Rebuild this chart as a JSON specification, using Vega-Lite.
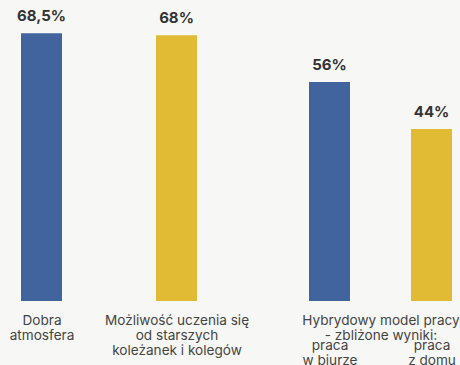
{
  "$schema": "https://vega.github.io/schema/vega-lite/v6.json",
  "width": 460,
  "height": 301,
  "padding": {"left": 0, "top": 0, "right": 0, "bottom": 64},
  "autosize": {"type": "none"},
  "background": "#f7f7f5",
  "config": {
    "view": {"stroke": null},
    "axisX": {
      "title": null,
      "domain": false,
      "ticks": false,
      "grid": false,
      "labelOverlap": false,
      "labelFlush": false,
      "labelBound": false,
      "labelFont": "Inter",
      "labelFontSize": 13.6,
      "labelColor": "#444444",
      "labelLineHeight": 15,
      "labelBaseline": "top"
    }
  },
  "data": {"values": [
    {"order": 1, "category": "Dobra atmosfera", "value": 68.5, "series": "A"},
    {"order": 2, "category": "Możliwość uczenia się od starszych koleżanek i kolegów", "value": 68, "series": "B"},
    {"order": 3, "category": "Hybrydowy model pracy – praca w biurze", "value": 56, "series": "A"},
    {"order": 4, "category": "Hybrydowy model pracy – praca z domu", "value": 44, "series": "B"}
  ]},
  "transform": [
    {"calculate": "replace(format(datum.value, '~g'), '.', ',') + '%'", "as": "label"}
  ],
  "encoding": {
    "y": {
      "field": "value",
      "type": "quantitative",
      "scale": {"domain": [0, 77], "nice": false},
      "axis": null
    }
  },
  "resolve": {"axis": {"x": "independent"}},
  "layer": [
    {
      "mark": {"type": "bar", "width": 41},
      "encoding": {
        "x": {
          "field": "order",
          "type": "quantitative",
          "scale": {"type": "linear", "domain": [1, 2, 3, 4], "range": [41.5, 176.5, 329.5, 431.5], "zero": false, "nice": false, "padding": 0},
          "axis": {
            "orient": "bottom",
            "values": [1, 2, 3.5],
            "labelPadding": 12,
            "labelExpr": "datum.value == 1 ? ['Dobra','atmosfera'] : datum.value == 2 ? ['Możliwość uczenia się','od starszych','koleżanek i kolegów'] : ['Hybrydowy model pracy','- zbliżone wyniki:']",
            "encode": {"labels": {"update": {"dy": {"signal": "datum.value > 3 ? -6 : 0"}}}}
          }
        },
        "color": {
          "field": "series",
          "type": "nominal",
          "scale": {"domain": ["A", "B"], "range": ["#41649e", "#e0bb33"]},
          "legend": null
        }
      }
    },
    {
      "mark": {"type": "text", "baseline": "bottom", "dy": -9, "font": "Inter", "fontSize": 15, "fontWeight": "bold", "color": "#333333"},
      "encoding": {
        "x": {
          "field": "order",
          "type": "quantitative",
          "axis": {
            "orient": "bottom",
            "values": [3, 4],
            "labelPadding": 37,
            "labelExpr": "datum.value == 3 ? ['praca','w biurze'] : ['praca','z domu']"
          }
        },
        "text": {"field": "label"}
      }
    }
  ]
}
